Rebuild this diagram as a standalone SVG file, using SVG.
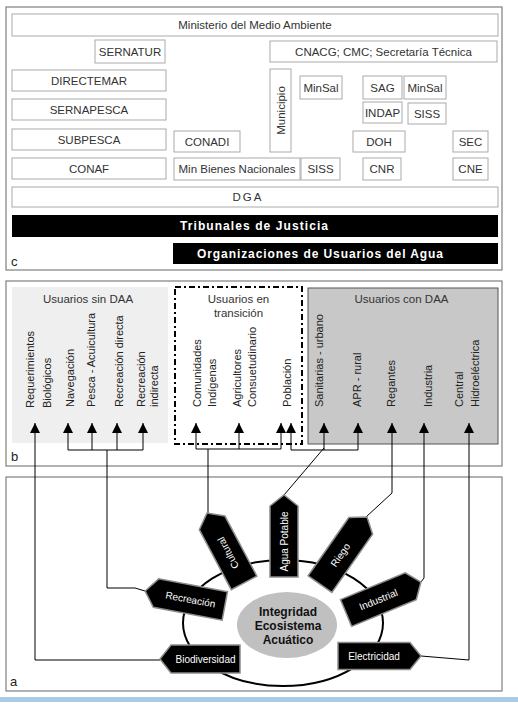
<svg xmlns="http://www.w3.org/2000/svg" width="518" height="705" viewBox="0 0 518 705">
<style>
text{font-family:"Liberation Sans",Arial,sans-serif}
.panel{fill:#fff;stroke:#7f7f7f;stroke-width:1.2}
.box{fill:#fff;stroke:#aaaaaa;stroke-width:1}
.bt{font-size:11.5px;fill:#333;text-anchor:middle}
.blk{fill:#000}
.wb{font-size:12px;font-weight:bold;fill:#fff}
.vl{font-size:11px;fill:#222}
.hd{font-size:11.5px;fill:#333;text-anchor:middle}
.con{fill:none;stroke:#000;stroke-width:1}
.tag{fill:#000;stroke:#8c8c8c;stroke-width:1.5}
.tt{font-size:10px;fill:#fff;text-anchor:middle}
.lbl{font-size:13px;fill:#222}
.core{font-size:12px;font-weight:bold;fill:#111;text-anchor:middle}
</style>
<defs>
<marker id="ah" viewBox="0 0 10 10" refX="10" refY="5" markerWidth="10" markerHeight="10" markerUnits="userSpaceOnUse" orient="auto">
<path d="M0,0 L10,5 L0,10 z" fill="#000"/>
</marker>
</defs>
<rect width="518" height="705" fill="#fff"/>

<!-- Panel c -->
<g id="panel-c">
<rect class="panel" x="6" y="7" width="496" height="263"/>
<text class="lbl" x="11" y="266">c</text>
</g>
<g id="n-ministerio"><rect class="box" x="12" y="14" width="486" height="22"/><text class="bt" x="255" y="29">Ministerio del Medio Ambiente</text></g>
<g id="n-sernatur"><rect class="box" x="95" y="40" width="70" height="23"/><text class="bt" x="130" y="55.5">SERNATUR</text></g>
<g id="n-cnacg"><rect class="box" x="270" y="41" width="227" height="21"/><text class="bt" x="383.5" y="55.5">CNACG; CMC; Secretaría Técnica</text></g>
<g id="n-directemar"><rect class="box" x="12" y="70" width="154" height="21"/><text class="bt" x="89" y="84.5">DIRECTEMAR</text></g>
<g id="n-municipio"><rect class="box" x="270" y="69" width="21" height="83"/><text class="bt" transform="translate(284.5,110.5) rotate(-90)">Municipio</text></g>
<g id="n-minsal1"><rect class="box" x="300" y="76" width="42" height="23"/><text class="bt" x="321" y="91.5">MinSal</text></g>
<g id="n-sag"><rect class="box" x="363" y="76" width="39" height="23"/><text class="bt" x="382.5" y="91.5">SAG</text></g>
<g id="n-minsal2"><rect class="box" x="404" y="76" width="42" height="23"/><text class="bt" x="425" y="91.5">MinSal</text></g>
<g id="n-sernapesca"><rect class="box" x="12" y="99" width="154" height="21"/><text class="bt" x="89" y="113.5">SERNAPESCA</text></g>
<g id="n-indap"><rect class="box" x="363" y="102" width="39" height="21"/><text class="bt" x="382.5" y="116.5">INDAP</text></g>
<g id="n-siss1"><rect class="box" x="408" y="103" width="38" height="21"/><text class="bt" x="427" y="117.5">SISS</text></g>
<g id="n-subpesca"><rect class="box" x="12" y="129" width="154" height="21"/><text class="bt" x="89" y="143.5">SUBPESCA</text></g>
<g id="n-conadi"><rect class="box" x="174" y="131" width="66" height="21"/><text class="bt" x="207" y="145.5">CONADI</text></g>
<g id="n-doh"><rect class="box" x="353" y="131" width="52" height="21"/><text class="bt" x="379" y="145.5">DOH</text></g>
<g id="n-sec"><rect class="box" x="453" y="131" width="35" height="21"/><text class="bt" x="470.5" y="145.5">SEC</text></g>
<g id="n-conaf"><rect class="box" x="12" y="158" width="154" height="21"/><text class="bt" x="89" y="172.5">CONAF</text></g>
<g id="n-minbienes"><rect class="box" x="174" y="158" width="126" height="22"/><text class="bt" x="237" y="173">Min Bienes Nacionales</text></g>
<g id="n-siss2"><rect class="box" x="301" y="158" width="39" height="22"/><text class="bt" x="320.5" y="173">SISS</text></g>
<g id="n-cnr"><rect class="box" x="363" y="158" width="38" height="22"/><text class="bt" x="382" y="173">CNR</text></g>
<g id="n-cne"><rect class="box" x="453" y="158" width="35" height="22"/><text class="bt" x="470.5" y="173">CNE</text></g>
<g id="n-dga"><rect class="box" x="12" y="187" width="486" height="20"/><text class="bt" x="248" y="201" letter-spacing="2">DGA</text></g>
<g id="n-tribunales"><rect class="blk" x="12" y="215" width="486" height="22"/><text class="wb" x="180" y="230" textLength="148" lengthAdjust="spacing">Tribunales de Justicia</text></g>
<g id="n-organizaciones"><rect class="blk" x="173" y="243" width="325" height="21"/><text class="wb" x="197" y="258" textLength="246" lengthAdjust="spacing">Organizaciones de Usuarios del Agua</text></g>

<!-- Panel b -->
<g id="panel-b">
<rect class="panel" x="6" y="281" width="496" height="185"/>
<text class="lbl" x="11" y="461">b</text>
</g>
<g id="n-sin-daa">
<rect x="12" y="287" width="156" height="156" fill="#efefef"/>
<text class="hd" x="88" y="303">Usuarios sin DAA</text>
<text class="vl" transform="translate(33.5,408) rotate(-90)">Requerimientos</text>
<text class="vl" transform="translate(50.5,408) rotate(-90)">Biológicos</text>
<text class="vl" transform="translate(73.5,407) rotate(-90)">Navegación</text>
<text class="vl" transform="translate(94.5,407) rotate(-90)">Pesca - Acuicultura</text>
<text class="vl" transform="translate(122.5,407) rotate(-90)">Recreación directa</text>
<text class="vl" transform="translate(144.5,407) rotate(-90)">Recreación</text>
<text class="vl" transform="translate(157.5,407) rotate(-90)">indirecta</text>
</g>
<g id="n-transicion">
<rect x="175" y="287" width="127" height="157" fill="none" stroke="#000" stroke-width="2" stroke-dasharray="6,3,2,3"/>
<text class="hd" x="238.5" y="303">Usuarios en</text>
<text class="hd" x="238.5" y="317">transición</text>
<text class="vl" transform="translate(200.5,407) rotate(-90)">Comunidades</text>
<text class="vl" transform="translate(215.5,407) rotate(-90)">Indígenas</text>
<text class="vl" transform="translate(240.5,407) rotate(-90)">Agricultores</text>
<text class="vl" transform="translate(255.5,407) rotate(-90)">Consuetudinario</text>
<text class="vl" transform="translate(290.5,407) rotate(-90)">Población</text>
</g>
<g id="n-con-daa">
<rect x="308" y="288" width="190" height="156" fill="#c8c8c8" stroke="#555" stroke-width="1"/>
<text class="hd" x="401.5" y="303">Usuarios con DAA</text>
<text class="vl" transform="translate(322.5,407) rotate(-90)">Sanitarias - urbano</text>
<text class="vl" transform="translate(360.5,407) rotate(-90)">APR - rural</text>
<text class="vl" transform="translate(394.5,407) rotate(-90)">Regantes</text>
<text class="vl" transform="translate(431.5,407) rotate(-90)">Industria</text>
<text class="vl" transform="translate(462.5,407) rotate(-90)">Central</text>
<text class="vl" transform="translate(478.5,407) rotate(-90)">Hidroeléctrica</text>
</g>

<!-- Panel a -->
<g id="panel-a">
<rect class="panel" x="6" y="477" width="496" height="214"/>
<text class="lbl" x="10" y="686">a</text>
<rect x="0" y="697" width="518" height="5" fill="#a9cbe4"/>
</g>
<g id="n-ellipse">
<ellipse cx="283" cy="623" rx="100" ry="63" fill="none" stroke="#000" stroke-width="2"/>
</g>
<g id="n-core">
<ellipse cx="287" cy="625" rx="50" ry="33" fill="#c0c0c0"/>
<text class="core" x="288" y="616">Integridad</text>
<text class="core" x="288" y="630">Ecosistema</text>
<text class="core" x="288" y="644">Acuático</text>
</g>

<!-- Connectors -->
<g id="connectors">
<path class="con" d="M160,660 L35,660 L35,423" marker-end="url(#ah)"/>
<path class="con" d="M145,591 L135,588 L107,588 L107,450"/>
<path class="con" d="M68,450 L143,450"/>
<path class="con" d="M68,450 L68,423" marker-end="url(#ah)"/>
<path class="con" d="M92,450 L92,423" marker-end="url(#ah)"/>
<path class="con" d="M117,450 L117,423" marker-end="url(#ah)"/>
<path class="con" d="M143,450 L143,423" marker-end="url(#ah)"/>
<path class="con" d="M208,513 L208,449"/>
<path class="con" d="M196,449 L281,449"/>
<path class="con" d="M196,449 L196,423" marker-end="url(#ah)"/>
<path class="con" d="M239,449 L239,423" marker-end="url(#ah)"/>
<path class="con" d="M281,449 L281,423" marker-end="url(#ah)"/>
<path class="con" d="M284,495 L324,448"/>
<path class="con" d="M324,450 L324,423" marker-end="url(#ah)"/>
<path class="con" d="M291,450 L358,450"/>
<path class="con" d="M291,450 L291,423" marker-end="url(#ah)"/>
<path class="con" d="M358,450 L358,423" marker-end="url(#ah)"/>
<path class="con" d="M366,517 L392,493 L392,423" marker-end="url(#ah)"/>
<path class="con" d="M421,582 L424,578 L424,423" marker-end="url(#ah)"/>
<path class="con" d="M421,656 L469,660 L469,423" marker-end="url(#ah)"/>
</g>

<!-- Tags -->
<g id="t-cultural" transform="translate(225.5,548) rotate(-118)">
<polygon class="tag" points="-39.5,-14.5 28.5,-14.5 39.5,0 28.5,14.5 -39.5,14.5"/>
<text class="tt" x="-5.5" y="3.5">Cultural</text>
</g>
<g id="t-agua" transform="translate(284,536) rotate(-90)">
<polygon class="tag" points="-41,-14 30,-14 41,0 30,14 -41,14"/>
<text class="tt" x="-5.5" y="3.5">Agua Potable</text>
</g>
<g id="t-riego" transform="translate(343.5,550.5) rotate(-55)">
<polygon class="tag" points="-41,-14.5 30,-14.5 41,0 30,14.5 -41,14.5"/>
<text class="tt" x="-5.5" y="3.5">Riego</text>
</g>
<g id="t-industrial" transform="translate(383.5,597.5) rotate(-22.5)">
<polygon class="tag" points="-40.5,-14.5 29.5,-14.5 40.5,0 29.5,14.5 -40.5,14.5"/>
<text class="tt" x="-5.5" y="3.5">Industrial</text>
</g>
<g id="t-electricidad" transform="translate(379.5,656)">
<polygon class="tag" points="-41.5,-13.5 30.5,-13.5 41.5,0 30.5,13.5 -41.5,13.5"/>
<text class="tt" x="-5.5" y="3.5">Electricidad</text>
</g>
<g id="t-recreacion" transform="translate(185,598.5) rotate(10.6)">
<polygon class="tag" points="40.5,-14.5 -29.5,-14.5 -40.5,0 -29.5,14.5 40.5,14.5"/>
<text class="tt" x="5.5" y="3.5">Recreación</text>
</g>
<g id="t-biodiversidad" transform="translate(200,659)">
<polygon class="tag" points="40,-14 -29,-14 -40,0 -29,14 40,14"/>
<text class="tt" x="5.5" y="3.5">Biodiversidad</text>
</g>
</svg>
